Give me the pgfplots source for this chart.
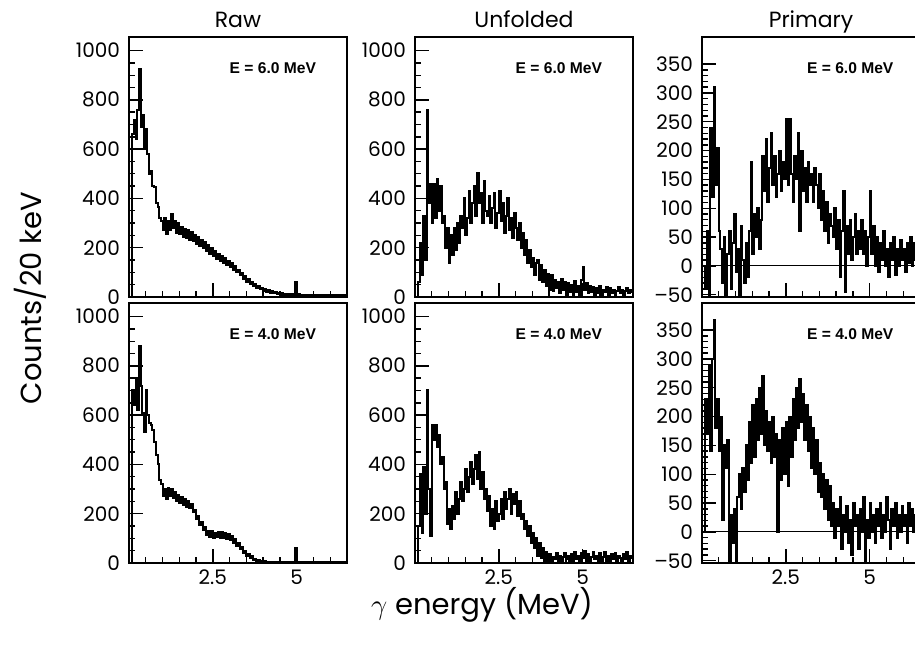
\documentclass[border=0pt]{standalone}
\usepackage{fontspec}
\setmainfont{Poppins}
\newfontfamily\lab{Liberation Sans}
\usepackage{pgfplots}
\usepackage{pgfplotstable}
\pgfplotsset{compat=1.18}

% spectra, 50 keV bins (left edges)
% r = raw, u = unfolded, p = primary; 6 = E 6.0 MeV, 4 = E 4.0 MeV
\pgfplotstableread{
E    r6  u6  p6  r4  u4  p4
0.05 0   0   0   0   0   0
0.10 660 60  -40 700 150 230
0.15 720 220 60  640 360 170
0.20 640 90  -50 750 120 290
0.25 760 330 240 620 390 140
0.30 925 150 120 880 200 300
0.35 690 760 310 720 700 367
0.40 740 380 140 610 300 180
0.45 600 460 205 530 110 230
0.50 680 300 60  700 560 140
0.55 580 460 30  600 500 200
0.60 500 320 -30 570 560 20
0.65 510 480 50  560 470 150
0.70 450 350 -50 540 520 110
0.75 445 450 20  490 400 160
0.80 380 300 60  440 430 -50
0.85 365 330 -40 400 300 30
0.90 320 200 40  335 330 -20
0.95 310 280 90  320 160 40
1.00 270 140 -10 270 220 -50
1.05 320 250 30  300 140 60
1.10 255 170 -50 260 230 100
1.15 310 280 70  305 180 40
1.20 270 190 10  270 290 110
1.25 335 300 -30 300 200 70
1.30 280 220 40  265 260 150
1.35 310 330 -20 290 330 90
1.40 260 280 60  250 250 190
1.45 300 400 180 275 300 120
1.50 255 250 20  245 380 220
1.55 285 320 90  268 290 130
1.60 245 430 50  235 350 230
1.65 275 300 100 258 410 160
1.70 240 380 30  228 320 250
1.75 270 450 80  252 380 170
1.80 232 330 190 222 440 270
1.85 262 505 130 240 340 150
1.90 228 380 220 205 450 210
1.95 252 420 110 215 300 140
2.00 215 300 170 180 370 190
2.05 245 470 230 192 260 120
2.10 208 350 140 155 300 200
2.15 232 330 190 168 210 130
2.20 198 410 120 135 270 170
2.25 222 300 160 148 150 0
2.30 188 360 200 115 220 160
2.35 210 420 130 130 140 90
2.40 175 280 180 105 250 180
2.45 198 340 150 128 170 100
2.50 165 430 255 100 200 190
2.55 186 310 140 122 260 80
2.60 155 380 255 104 180 200
2.65 176 260 160 126 290 130
2.70 146 330 110 100 220 230
2.75 166 400 190 124 260 160
2.80 138 270 150 102 300 250
2.85 158 320 230 122 200 180
2.90 128 240 60  98  280 265
2.95 146 340 200 118 240 190
3.00 120 280 130 95  290 240
3.05 138 230 170 110 190 160
3.10 110 300 110 82  250 220
3.15 124 200 180 96  180 140
3.20 100 260 140 68  200 200
3.25 110 170 160 80  140 110
3.30 88  230 110 55  170 180
3.35 98  140 170 64  110 100
3.40 74  190 140 40  150 160
3.45 84  120 100 50  80  70
3.50 62  160 160 30  120 120
3.55 72  90  80  38  60  60
3.60 52  140 130 20  100 100
3.65 60  150 60  27  30  40
3.70 45  70  110 12  80  90
3.75 52  130 40  18  20  20
3.80 38  60  90  7   60  80
3.85 44  110 70  12  5   10
3.90 32  45  50  4   45  50
3.95 38  95  100 9   10  -10
4.00 26  30  30  3   35  40
4.05 33  90  80  7   5   10
4.10 22  25  -20 2   25  60
4.15 28  70  60  6   15  -30
4.20 18  35  130 2   40  30
4.25 24  60  -45 6   10  0
4.30 15  15  70  2   30  45
4.35 20  75  20  6   5   -20
4.40 12  30  80  2   25  20
4.45 18  60  10  6   40  -40
4.50 10  10  50  2   15  50
4.55 16  55  90  6   30  10
4.60 9   20  20  2   10  30
4.65 14  50  60  6   35  -30
4.70 8   10  30  2   5   40
4.75 13  65  80  6   45  0
4.80 7   20  20  2   15  60
4.85 12  45  60  6   30  -50
4.90 6   5   0   2   10  20
4.95 60  70  50  60  40  -10
5.00 5   120 130 2   20  50
5.05 11  30  20  6   50  0
5.10 4   55  70  2   10  30
5.15 10  15  0   6   35  -20
5.20 4   45  50  2   5   40
5.25 9   20  -10 6   25  10
5.30 3   40  40  2   45  50
5.35 8   10  10  6   15  -10
5.40 3   35  60  2   30  30
5.45 8   15  0   6   10  0
5.50 3   45  30  2   40  60
5.55 8   10  -20 6   5   20
5.60 3   30  40  2   25  -30
5.65 8   20  10  6   45  40
5.70 3   40  50  2   10  10
5.75 8   10  -15 6   30  50
5.80 3   35  30  2   5   -10
5.85 8   15  0   6   35  30
5.90 3   30  45  2   15  0
5.95 8   10  10  6   40  45
6.00 3   25  30  2   10  10
6.05 8   40  -10 6   30  30
6.10 3   15  40  2   20  -20
6.15 8   30  5   6   5   50
6.20 3   10  50  2   35  10
6.25 8   25  0   6   15  40
6.30 3   35  40  2   45  0
6.35 8   15  10  6   10  30
6.40 3   30  35  2   30  15
6.45 8   20  15  6   20  40
6.50 8   20  15  6   20  40
}\spec

\pgfplotsset{
  panel/.style={
    scale only axis, width=109pt, height=130pt, anchor=south west,
    xmin=0, xmax=6.5,
    axis line style={line width=1pt},
    tick style={black, line width=0.7pt},
    tick align=inside, xtick pos=bottom, ytick pos=left,
    major tick length=7pt, minor tick length=3pt,
    xtick={2.5,5}, xticklabels={2.5,5},
    minor xtick={0.5,1,1.5,2,3,3.5,4,4.5,5.5,6},
    ticklabel style={font=\fontsize{10}{12}\selectfont},
    yticklabel style={xshift=-1pt},
    clip=true,
  },
  toprow/.style={xticklabels={}},
  rawax/.style={ymin=0, ymax=1055, ytick={0,200,...,1000},
    yticklabels={0,200,400,600,800,1000}, minor y tick num=3},
  priax/.style={ymin=-54, ymax=397, ytick={-50,0,...,350},
    yticklabels={--50,0,50,100,150,200,250,300,350}, minor y tick num=4,
    extra y ticks={0}, extra y tick labels={},
    extra y tick style={major tick length=0pt, grid=major,
      major grid style={black, line width=0.5pt}}},
  hist/.style={const plot, black, line width=1pt},
}
\tikzset{elab/.style={font=\lab\bfseries\fontsize{7.8}{9}\selectfont}}

\begin{document}
\begin{tikzpicture}
\path[use as bounding box] (0,0) rectangle (457.5pt,325pt);
\clip (0,0) rectangle (457.5pt,325pt);

% top row, E = 6.0 MeV
\begin{axis}[panel, toprow, rawax, at={(64.5pt,176.5pt)}]
\addplot[hist] table[x=E, y=r6] {\spec};
\node[elab] at (rel axis cs:0.66,0.88) {E = 6.0 MeV};
\end{axis}
\begin{axis}[panel, toprow, rawax, at={(207.5pt,176.5pt)}]
\addplot[hist] table[x=E, y=u6] {\spec};
\node[elab] at (rel axis cs:0.66,0.88) {E = 6.0 MeV};
\end{axis}
\begin{axis}[panel, toprow, priax, at={(351pt,176.5pt)}]
\addplot[hist] table[x=E, y=p6] {\spec};
\node[elab] at (rel axis cs:0.68,0.88) {E = 6.0 MeV};
\end{axis}

% bottom row, E = 4.0 MeV
\begin{axis}[panel, rawax, at={(64.5pt,43.5pt)}]
\addplot[hist] table[x=E, y=r4] {\spec};
\node[elab] at (rel axis cs:0.66,0.88) {E = 4.0 MeV};
\end{axis}
\begin{axis}[panel, rawax, at={(207.5pt,43.5pt)}]
\addplot[hist] table[x=E, y=u4] {\spec};
\node[elab] at (rel axis cs:0.66,0.88) {E = 4.0 MeV};
\end{axis}
\begin{axis}[panel, priax, at={(351pt,43.5pt)}]
\addplot[hist] table[x=E, y=p4] {\spec};
\node[elab] at (rel axis cs:0.68,0.88) {E = 4.0 MeV};
\end{axis}

\node[font=\fontsize{11}{13}\selectfont, anchor=base] at (119pt,311.5pt) {Raw};
\node[font=\fontsize{11}{13}\selectfont, anchor=base] at (262pt,311.5pt) {Unfolded};
\node[font=\fontsize{11}{13}\selectfont, anchor=base] at (405.5pt,311.5pt) {Primary};
\node[rotate=90, font=\fontsize{14.5}{17}\selectfont] at (15pt,176pt) {Counts/20 keV};
\node[font=\fontsize{14.5}{17}\selectfont] at (241pt,22.5pt) {$\gamma$ energy (MeV)};
\end{tikzpicture}
\end{document}
